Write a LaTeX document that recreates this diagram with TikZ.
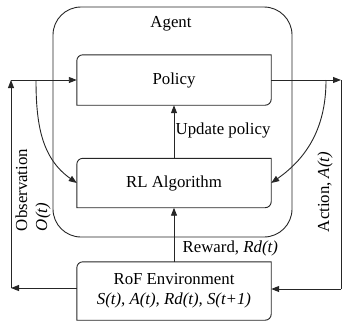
\documentclass[tikz,border=0pt]{standalone}
\usepackage{fontspec}
\setmainfont{LiberationSerif}[Extension=.ttf,UprightFont=*-Regular,ItalicFont=*-Italic,BoldFont=*-Bold]
\usetikzlibrary{arrows.meta,calc}
\begin{document}
\begin{tikzpicture}[x=1pt,y=1pt,
  every node/.style={font=\fontsize{16.8}{20}\selectfont},
  ln/.style={line width=0.9pt,draw=black!85},
  arr/.style={ln,-{Triangle[length=8pt,width=6pt]}},
  boxnode/.style={draw=none,minimum width=194pt,inner sep=0pt,align=center},
  lbl/.style={inner sep=0pt}
]
\useasboundingbox (0,0) rectangle (342,-322);
\node[ln,draw,rounded corners=28pt,minimum width=239pt,minimum height=230pt] (agent) at (172.5,-122) {};
\node[lbl] (agentlbl) at (171,-24) {Agent};
\node[boxnode,minimum height=50pt] (pol) at (174,-80) {Policy};
\node[boxnode,minimum height=49pt] (rl) at (174,-183) {RL Algorithm};
\node[boxnode,minimum height=58pt] (rof) at (174,-291) {RoF Environment\\\textit{S(t), A(t), Rd(t), S(t+1)}};
\foreach \b in {pol,rl,rof}{
  \draw[ln] (\b.north east) -- ([xshift=6pt]\b.north west) arc[start angle=90,end angle=180,radius=6pt]
    -- (\b.south west) -- ([xshift=-6pt]\b.south east) arc[start angle=-90,end angle=0,radius=6pt] -- cycle;
}
\draw[arr] (rl.north) -- (pol.south);
\draw[arr] (rof.north) -- (rl.south);
\node[lbl,anchor=west] (upd) at (175.5,-130) {Update policy};
\node[lbl,anchor=west] (rew) at (182.5,-248) {Reward, \textit{Rd(t)}};
\coordinate (bl) at (11,-288);
\coordinate (tl) at (11,-80);
\coordinate (tr) at (341,-80);
\coordinate (br) at (341,-289);
\coordinate (cl) at (36,-80);
\coordinate (cr) at (326,-80);
\draw[arr] ([yshift=3pt]rof.west) -- (bl);
\draw[arr] (bl) -- (tl);
\draw[arr] (tl) -- (pol.west);
\draw[arr] (cl) to[out=-90,in=145] (rl.west);
\draw[arr] (pol.east) -- (tr);
\draw[ln] (tr) -- (br);
\draw[arr] (br) -- ([yshift=2pt]rof.east);
\draw[arr] (cr) to[out=-90,in=35] (rl.east);
\node[lbl,rotate=90,align=left] (obs) at (33,-190) {Observation\\\textit{O(t)}};
\node[lbl,rotate=90] (act) at (325,-192) {Action, \textit{A(t)}};
\end{tikzpicture}
\end{document}
